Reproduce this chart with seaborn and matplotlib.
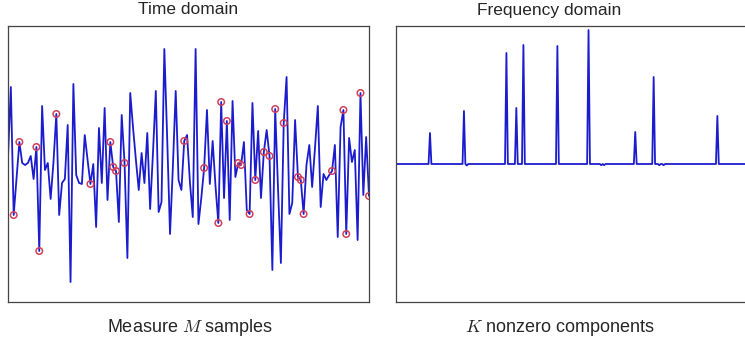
import numpy as np
import pandas as pd
import seaborn as sns
import matplotlib
matplotlib.use("Agg")
import matplotlib.pyplot as plt

# ---------------- data ----------------
signal_values = [
    0.07, 0.77, -0.51, -0.14, 0.22, 0.01, -0.01, 0.01, 0.08, -0.15,
    0.17, -0.87, 0.58, -0.06, 0.01, -0.35, 0.02, 0.50, -0.51, -0.19,
    -0.15, 0.39, -1.18, 0.80, -0.11, -0.19, -0.20, 0.29, 0.04, -0.20,
    0.00, -0.63, 0.36, -0.19, 0.56, -0.36, 0.22, -0.03, -0.07, -0.58,
    0.49, 0.01, -0.94, 0.71, 0.36, 0.04, -0.26, 0.11, -0.19, 0.31,
    -0.45, 0.11, 0.73, -0.48, -0.38, 1.15, 0.26, -0.70, -0.03, 0.73,
    -0.16, -0.26, 0.23, 0.29, -0.18, -0.53, 1.15, -0.60, -0.34, -0.04,
    0.54, -0.20, 0.23, -0.22, -0.59, 0.62, -0.34, 0.43, -0.56, 0.63,
    -0.13, 0.01, -0.01, 0.22, -0.46, -0.50, 0.61, -0.16, 0.33, -0.34,
    0.12, 0.34, 0.08, -1.06, 0.55, -0.25, -0.99, 0.41, 0.87, -0.50,
    -0.39, 0.44, -0.13, -0.16, -0.50, -0.01, 0.19, -0.23, 0.16, 0.58,
    -0.43, -0.10, -0.16, -0.11, -0.07, 0.19, -0.73, 0.37, 0.54, -0.70,
    0.26, 0.02, 0.14, -0.76, 0.71, -0.31, 0.27, -0.32,
]
sample_indices = [2, 4, 10, 11, 17, 29, 36, 37, 38, 41, 62, 69, 74, 75, 77,
                  81, 82, 85, 87, 90, 92, 94, 97, 102, 103, 104, 114, 118,
                  119, 124, 127]

n_freq_bins = 256
component_bins = [24, 48, 78, 85, 90, 114, 136, 169, 182, 227]
component_amps = [0.31, 0.53, 1.11, 0.56, 1.19, 1.18, 1.34, 0.32, 0.87, 0.48]
ripple_bins = [50, 145, 147, 186, 189]
ripple_amps = [-0.015, -0.012, -0.012, -0.012, -0.012]

titles = ["Time domain", "Frequency domain"]
bottom_labels = ["Measure $M$ samples", "$K$ nonzero components"]

# ---------------- tables ----------------
time_df = pd.DataFrame({"t": np.arange(len(signal_values)), "x": signal_values})
samp_df = time_df.iloc[sample_indices]

spectrum = np.zeros(n_freq_bins)
spectrum[component_bins] = component_amps
spectrum[ripple_bins] = ripple_amps
freq_df = pd.DataFrame({"f": np.arange(n_freq_bins), "X": spectrum})

# ---------------- figure ----------------
sns.set_style("white")
plt.rcParams["font.family"] = ["Liberation Sans", "DejaVu Sans"]
plt.rcParams["mathtext.fontset"] = "cm"

W, H = 745, 347
fig = plt.figure(figsize=(W / 100, H / 100), dpi=100)
ax1 = fig.add_axes([8 / W, 45 / H, 361 / W, 276 / H])
ax2 = fig.add_axes([396 / W, 45 / H, 361 / W, 276 / H])

BLUE = "#1c1ccf"
RED = "#d0405a"

sns.lineplot(data=time_df, x="t", y="x", ax=ax1, color=BLUE, linewidth=1.3)
sns.scatterplot(data=samp_df, x="t", y="x", ax=ax1, marker="o", s=22,
                facecolors="none", edgecolors=RED, linewidth=1.1, zorder=3)
ax1.set_xlim(0, len(signal_values) - 1)
ax1.set_ylim(-1.38, 1.38)

sns.lineplot(data=freq_df, x="f", y="X", ax=ax2, color=BLUE, linewidth=1.3)
ax2.set_xlim(0, n_freq_bins - 1)
ax2.set_ylim(-1.38, 1.38)

for ax in (ax1, ax2):
    ax.set_xticks([])
    ax.set_yticks([])
    ax.set_xlabel("")
    ax.set_ylabel("")
    for sp in ax.spines.values():
        sp.set_color("#444444")
        sp.set_linewidth(0.9)

fig.text(188.5 / W, 1 - 10 / H, titles[0], ha="center", va="center", fontsize=12.5)
fig.text(549 / W, 1 - 10 / H, titles[1], ha="center", va="center", fontsize=12.5)
fig.text(190 / W, 1 - 328 / H, bottom_labels[0], ha="center", va="center", fontsize=13)
fig.text(560 / W, 1 - 328 / H, bottom_labels[1], ha="center", va="center", fontsize=13)

fig.savefig("out.png", dpi=100)
